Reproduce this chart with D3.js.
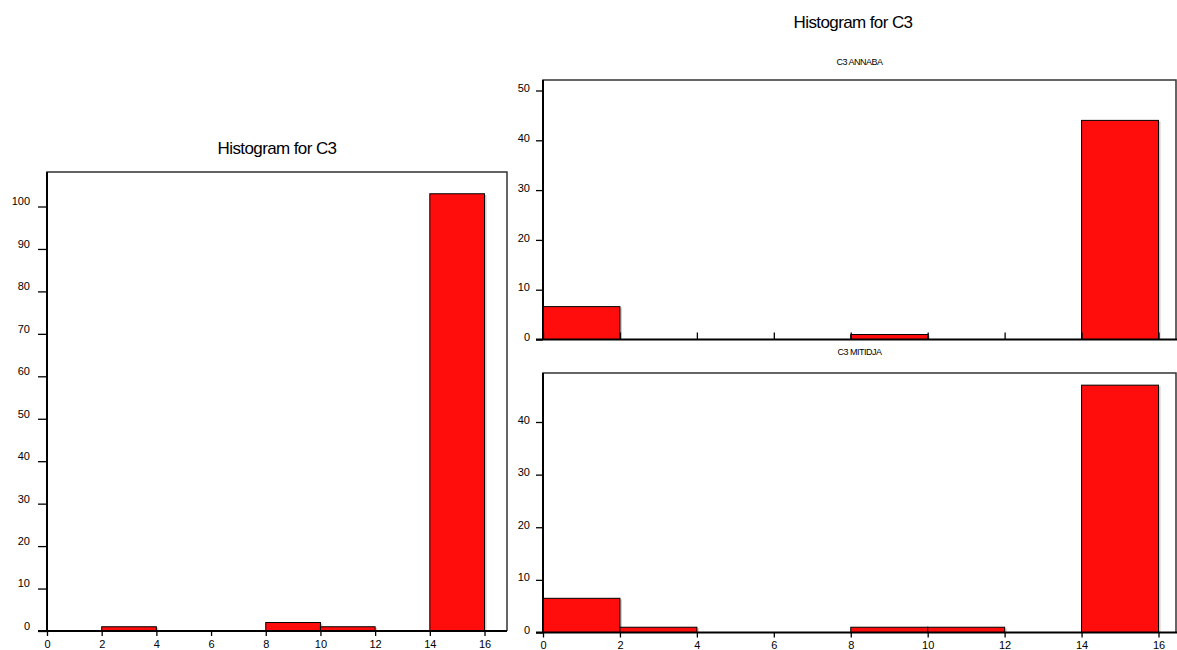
<!DOCTYPE html>
<html>
<head>
<meta charset="utf-8">
<script src="https://cdn.jsdelivr.net/npm/d3@7"></script>
<style>
  body { margin: 0; background: #fff; }
  text { font-family: "Liberation Sans", Arial, sans-serif; fill: #000; }
</style>
</head>
<body>
<div id="plot"></div>
<script>
// bins and counts
var binEdges = [0, 2, 4, 6, 8, 10, 12, 14, 16];
var allCounts = [0, 1, 0, 0, 2, 1, 0, 103];
var annabaCounts = [6.6, 0, 0, 0, 1, 0, 0, 44];
var mitidjaCounts = [6.5, 1, 0, 0, 1, 1, 0, 47];

var xTicks = [0, 2, 4, 6, 8, 10, 12, 14, 16];
var allYTicks = [0, 10, 20, 30, 40, 50, 60, 70, 80, 90, 100];
var annabaYTicks = [0, 10, 20, 30, 40, 50];
var mitidjaYTicks = [0, 10, 20, 30, 40];

var svgWidth = 1177;
var svgHeight = 650;

var svg = d3.select("#plot")
  .append("svg")
  .attr("width", svgWidth)
  .attr("height", svgHeight);

function panel(cfg) {
  var x = d3.scaleLinear().domain([0, 16]).range([cfg.left, cfg.x16]);
  var y = d3.scaleLinear().domain([0, cfg.yMax]).range([cfg.base, cfg.top]);
  var g = svg.append("g");

  var bins = cfg.counts.map(function (c, i) {
    return { x0: binEdges[i], x1: binEdges[i + 1], n: c };
  }).filter(function (d) { return d.n > 0; });

  // faint shadow then the bars
  g.selectAll("rect.shadow")
    .data(bins)
    .enter()
    .append("rect")
    .attr("class", "shadow")
    .attr("x", d => x(d.x0) + 2)
    .attr("y", d => y(d.n) + 1)
    .attr("width", d => x(d.x1) - x(d.x0))
    .attr("height", d => cfg.base - y(d.n) - 1)
    .attr("fill", "#d9c6c6");

  g.selectAll("rect.bar")
    .data(bins)
    .enter()
    .append("rect")
    .attr("class", "bar")
    .attr("x", d => x(d.x0))
    .attr("y", d => y(d.n))
    .attr("width", d => x(d.x1) - x(d.x0))
    .attr("height", d => cfg.base - y(d.n))
    .attr("fill", "#ff0d0d")
    .attr("stroke", "#000")
    .attr("stroke-width", 1);

  // frame
  g.append("path")
    .attr("d", `M${cfg.left},${cfg.base}V${cfg.frameTop}H${cfg.right}V${cfg.base}`)
    .attr("fill", "none")
    .attr("stroke", "#333")
    .attr("stroke-width", 1.5);

  // y axis
  var yAxis = d3.axisLeft(y)
    .tickValues(cfg.yTicks)
    .tickSize(cfg.yTickSize)
    .tickPadding(cfg.yPad)
    .tickFormat(d3.format("d"));
  var ya = g.append("g")
    .attr("transform", `translate(${cfg.left},0)`)
    .call(yAxis);
  ya.select(".domain").remove();
  ya.selectAll("line").attr("stroke", "#000").attr("stroke-width", 1.3);
  ya.selectAll("text")
    .attr("font-size", 11)
    .attr("fill", "#000")
    .attr("font-family", "Liberation Sans, Arial, sans-serif")
    .attr("dy", cfg.yDy);

  // x axis
  if (cfg.xLabels) {
    var xa = g.append("g")
      .attr("transform", `translate(0,${cfg.base})`)
      .call(d3.axisBottom(x).tickValues(xTicks).tickSize(5).tickPadding(4));
    xa.select(".domain").remove();
    xa.selectAll("line").attr("stroke", "#000").attr("stroke-width", 1.3);
    xa.selectAll("text")
      .attr("font-size", 11)
      .attr("fill", "#000")
      .attr("font-family", "Liberation Sans, Arial, sans-serif");
  } else {
    var xt = g.append("g")
      .attr("transform", `translate(0,${cfg.base})`)
      .call(d3.axisTop(x).tickValues(xTicks).tickSize(7).tickFormat(""));
    xt.select(".domain").remove();
    xt.selectAll("line").attr("stroke", "#000").attr("stroke-width", 1.3);
  }

  // axis lines
  g.append("line")
    .attr("x1", cfg.left - cfg.yTickSize)
    .attr("x2", cfg.axisRight)
    .attr("y1", cfg.base)
    .attr("y2", cfg.base)
    .attr("stroke", "#000")
    .attr("stroke-width", 2);
  g.append("line")
    .attr("x1", cfg.left)
    .attr("x2", cfg.left)
    .attr("y1", cfg.frameTop)
    .attr("y2", cfg.base)
    .attr("stroke", "#000")
    .attr("stroke-width", 2);

  if (cfg.title) {
    svg.append("text")
      .attr("x", (cfg.left + cfg.right) / 2)
      .attr("y", cfg.titleY)
      .attr("text-anchor", "middle")
      .attr("font-size", cfg.titleSize)
      .attr("letter-spacing", cfg.titleSpacing)
      .text(cfg.title);
  }
}

panel({
  counts: allCounts, yTicks: allYTicks, yMax: 100,
  left: 47, x16: 484.5, right: 507, axisRight: 507,
  base: 631, top: 206.5, frameTop: 172,
  yTickSize: 9, yPad: 8, yDy: "-0.15em", xLabels: true,
  title: "Histogram for C3", titleY: 154, titleSize: 17, titleSpacing: -0.6
});

panel({
  counts: annabaCounts, yTicks: annabaYTicks, yMax: 50,
  left: 543, x16: 1158.5, right: 1176, axisRight: 1177,
  base: 339.5, top: 90.5, frameTop: 80,
  yTickSize: 7, yPad: 6, yDy: "0.1em", xLabels: false,
  title: "C3 ANNABA", titleY: 65, titleSize: 9, titleSpacing: -0.5
});

panel({
  counts: mitidjaCounts, yTicks: mitidjaYTicks, yMax: 40,
  left: 543, x16: 1158.5, right: 1176, axisRight: 1177,
  base: 632.5, top: 422, frameTop: 373,
  yTickSize: 7, yPad: 6, yDy: "0.1em", xLabels: true,
  title: "C3 MITIDJA", titleY: 355, titleSize: 9, titleSpacing: -0.5
});

svg.append("text")
  .attr("x", 853)
  .attr("y", 28)
  .attr("text-anchor", "middle")
  .attr("font-size", 17)
  .attr("letter-spacing", -0.6)
  .text("Histogram for C3");
</script>
</body>
</html>
